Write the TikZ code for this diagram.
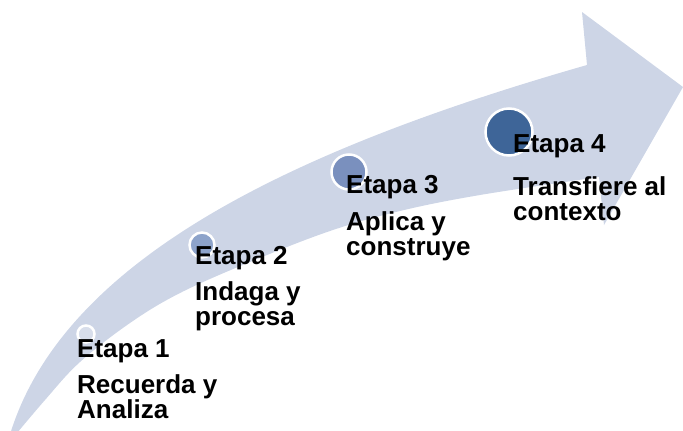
\documentclass[tikz,border=0pt]{standalone}
\usepackage{fontspec}
\setmainfont{Liberation Sans}
\usetikzlibrary{shapes, arrows, calc, positioning}
\definecolor{arrowgrey}{RGB}{205,213,230}
\definecolor{stageA}{RGB}{216,222,235}
\definecolor{stageB}{RGB}{141,163,202}
\definecolor{stageC}{RGB}{122,144,190}
\definecolor{stageD}{RGB}{62,101,152}

\begin{document}
\begin{tikzpicture}[x=1pt, y=-1pt]
        \useasboundingbox (0,0) rectangle (683,431);

        % curved arrow
        \coordinate (T) at (7,445);
        \coordinate (H1) at (587,65);
        \coordinate (H2) at (582,12);
        \coordinate (H3) at (683,87);
        \coordinate (H4) at (604,225);
        \coordinate (H5) at (599,177);

        \fill [arrowgrey] (T) .. controls (55,262) and (290,150) .. (H1)
            -- (H2) -- (H3) -- (H4) -- (H5)
            -- plot [smooth, tension=0.6] coordinates {(599,177) (480,195) (400,211) (330,231) (250,262) (180,293) (130,323) (80,362) (45,400) (7,445)}
            -- cycle;

        \tikzstyle{c} = [draw=white, circle, line width=2.5pt, inner sep=0pt];
        \node [c, fill=stageA, minimum size=17] (C1) at (86,334) { };
        \node [c, fill=stageB, minimum size=25] (C2) at (202,245) { };
        \node [c, fill=stageC, minimum size=35] (C3) at (349,172) { };
        \node [c, fill=stageD, minimum size=47] (C4) at (509,132) { };

        \tikzstyle{t} = [anchor=base west, inner sep=0pt, font=\fontsize{26}{26}\selectfont\bfseries];
        \foreach \na/\x/\y/\d/\la/\lb in {1/77/357/36/Recuerda y/Analiza, 2/195/264/36/Indaga y/procesa, 3/346/193/37/Aplica y/construye, 4/513/152/43/Transfiere al/contexto}{
            \node [t] (E\na) at (\x,\y) {Etapa \na};
            \node [t] (E\na a) at ($(E\na.base west) + (0,\d)$) {\la};
            \node [t] (E\na b) at ($(E\na a.base west) + (0,25)$) {\lb};
        }
    \end{tikzpicture}
\end{document}
